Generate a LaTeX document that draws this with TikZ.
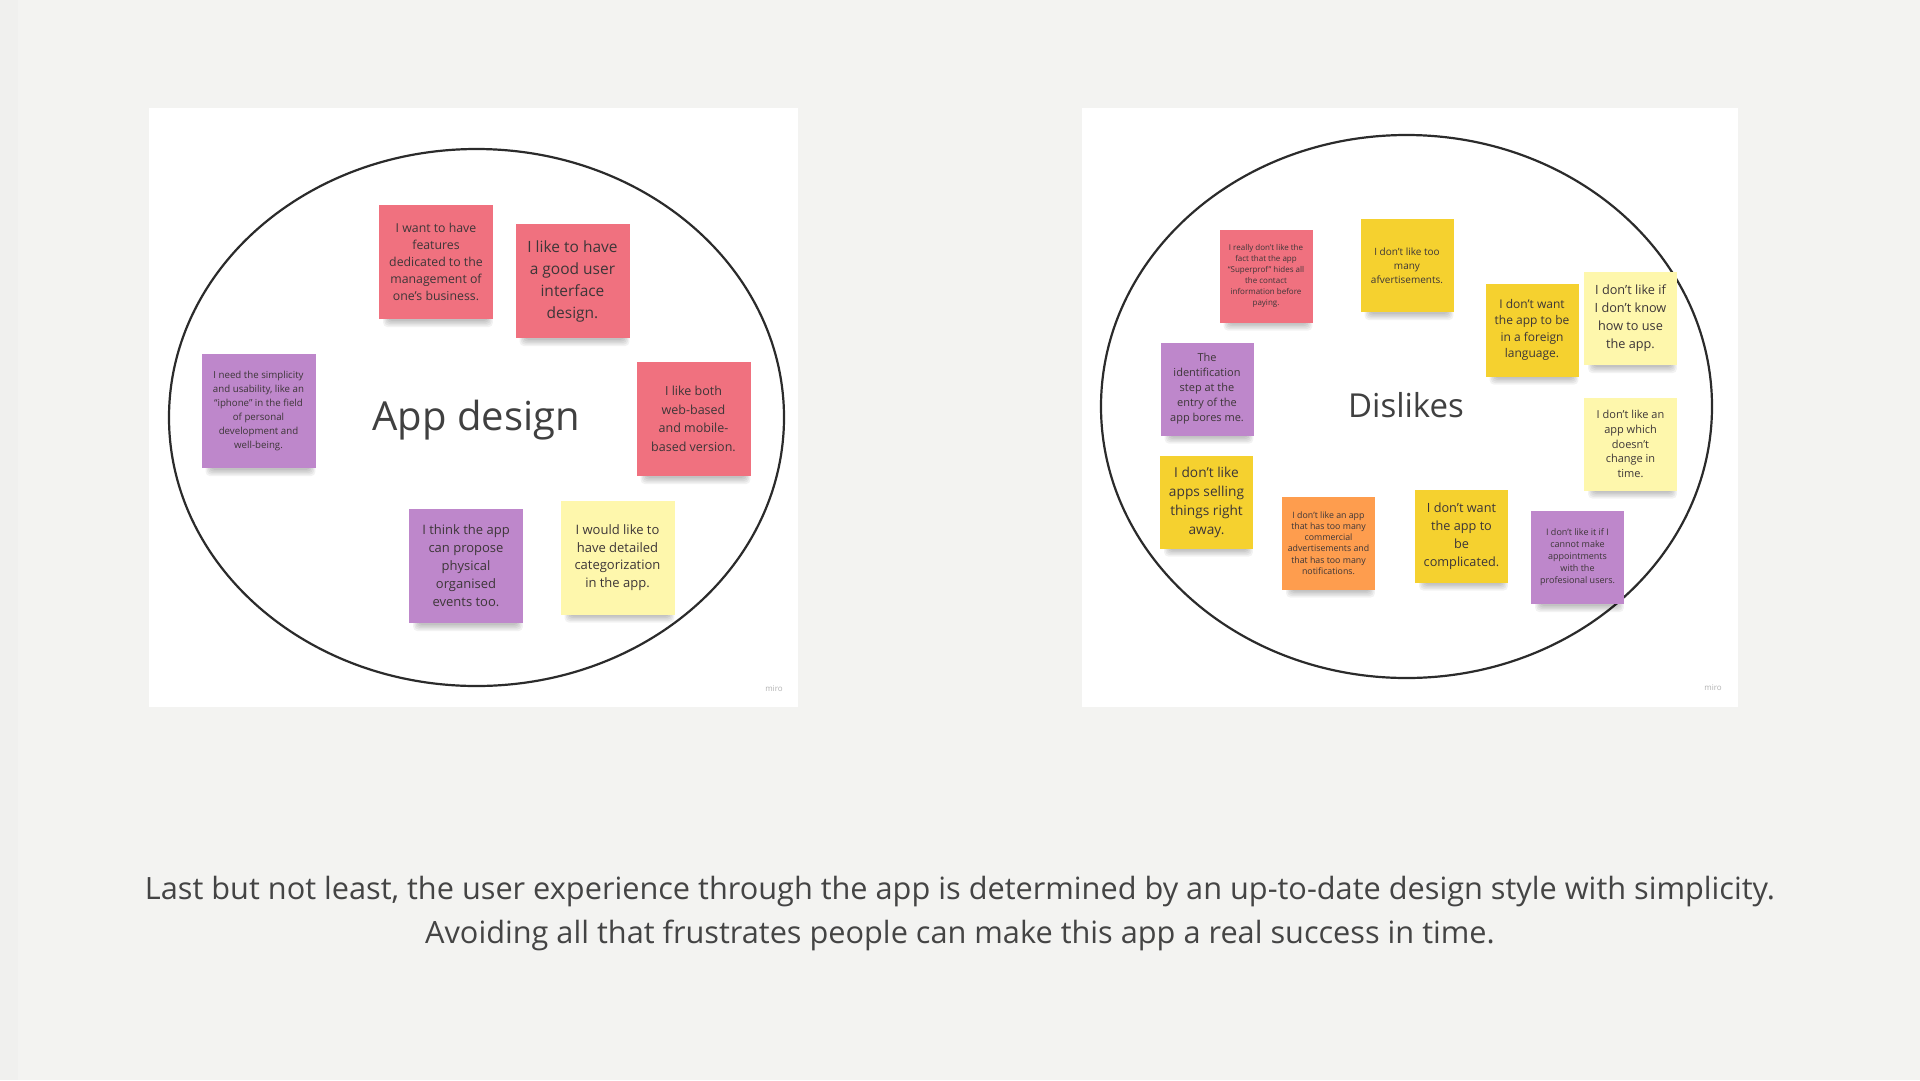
\documentclass[tikz,border=0pt]{standalone}
\usepackage{fontspec}
\setmainfont{Open Sans}
\usetikzlibrary{calc}

\definecolor{paper}{HTML}{F3F3F1}
\definecolor{ink}{HTML}{2B2B2B}
\definecolor{notetext}{HTML}{3D3638}
\definecolor{notepink}{HTML}{F0717F}
\definecolor{notepurple}{HTML}{BE87CB}
\definecolor{noteyellow}{HTML}{F5D12F}
\definecolor{notelight}{HTML}{FEF7AC}
\definecolor{noteorange}{HTML}{FE9D4E}

\tikzset{
  panel/.style={fill=white, draw=none, inner sep=0pt},
  ring/.style={draw=ink, line width=2.2pt},
  boardtitle/.style={text=ink!90, inner sep=0pt},
  sticky/.style={fill=#1, draw=none, inner sep=0pt, align=center, text=notetext},
  brandtag/.style={text=black!30, inner sep=0pt, font=\fontsize{8}{9}\selectfont},
  caption/.style={text=ink!88, inner sep=0pt, anchor=base, font=\fontsize{30.7}{36}\selectfont},
}

% soft drop shadow under the lower edge of a note: centre x, centre y, half size
\newcommand\notedrop[3]{%
  \foreach \k in {0,1,2,3,4}{
    \fill[black, opacity=0.05, rounded corners=4pt]
      ({#1-#3+9-1.2*\k},{#2+#3-6}) rectangle ({#1+#3-5+1.2*\k},{#2+#3+2+1.5*\k});
  }}

% sticky note: name, x, y, size, colour, font size, leading, text
\newcommand\stickynote[8]{%
  \notedrop{#2}{#3}{#4/2}
  \node[sticky=#5, minimum size=#4pt, font={\fontsize{#6}{#7}\selectfont}] (#1) at (#2,#3) {#8};
}

\begin{document}
\begin{tikzpicture}[x=1pt,y=-1pt]
\useasboundingbox (0,0) rectangle (1920,1080);
\fill[paper] (0,0) rectangle (1920,1080);
\fill[black, opacity=0.012] (0,0) rectangle (18,1080);

% the two boards
\node[panel, minimum width=649pt, minimum height=599pt] (boardA) at (473.5,407.5) {};
\node[panel, minimum width=656pt, minimum height=599pt] (boardB) at (1410,407.5) {};

\draw[ring] (476.5,417.5) ellipse [x radius=307.5pt, y radius=268.5pt];
\draw[ring] (1406.5,406.5) ellipse [x radius=305.5pt, y radius=271.5pt];

\node[boardtitle, font=\fontsize{40}{48}\selectfont] (titleA) at (476,420) {App design};
\node[boardtitle, font=\fontsize{33}{40}\selectfont] (titleB) at (1406,405) {Dislikes};

\node[brandtag] (brandA) at (774,689) {miro};
\node[brandtag] (brandB) at (1713,688) {miro};

% notes on the first board
\stickynote{a1}{436}{262}{114}{notepink}{12.3}{17}{I want to have\\features\\dedicated to the\\management of\\one's business.}
\stickynote{a2}{572.5}{281}{114}{notepink}{15.5}{22}{I like to have\\a good user\\interface\\design.}
\stickynote{a3}{258.5}{411}{114}{notepurple}{9.7}{14}{I need the simplicity\\and usability, like an\\``iphone'' in the field\\of personal\\development and\\well-being.}
\stickynote{a4}{693.5}{419}{114}{notepink}{12.5}{18.5}{I like both\\web-based\\and mobile-\\based version.}
\stickynote{a5}{466}{566}{114}{notepurple}{13}{18}{I think the app\\can propose\\physical\\organised\\events too.}
\stickynote{a6}{617.5}{557.5}{114}{notelight}{13}{17.5}{I would like to\\have detailed\\categorization\\in the app.}

% notes on the second board
\stickynote{b1}{1266}{276}{93}{notepink}{8}{11}{I really don't like the\\fact that the app\\``Superprof'' hides all\\the contact\\information before\\paying.}
\stickynote{b2}{1407}{265.5}{93}{noteyellow}{10}{14}{I don't like too\\many\\afvertisements.}
\stickynote{b3}{1532}{330}{93}{noteyellow}{12}{16.5}{I don't want\\the app to be\\in a foreign\\language.}
\stickynote{b4}{1630.5}{318.5}{93}{notelight}{12.7}{18}{I don't like if\\I don't know\\how to use\\the app.}
\stickynote{b5}{1207}{389}{93}{notepurple}{11}{15}{The\\identification\\step at the\\entry of the\\app bores me.}
\stickynote{b6}{1630.5}{444}{93}{notelight}{11}{14.7}{I don't like an\\app which\\doesn't\\change in\\time.}
\stickynote{b7}{1206.5}{502}{93}{noteyellow}{13.7}{19}{I don't like\\apps selling\\things right\\away.}
\stickynote{b8}{1328.5}{543}{93}{noteorange}{8.8}{11.2}{I don't like an app\\that has too many\\commercial\\advertisements and\\that has too many\\notifications.}
\stickynote{b9}{1461.5}{536}{93}{noteyellow}{12.7}{18}{I don't want\\the app to\\be\\complicated.}
\stickynote{b10}{1577.5}{557.5}{93}{notepurple}{9}{12}{I don't like it if I\\cannot make\\appointments\\with the\\profesional users.}

% closing remark
\node[caption] (line1) at (960,899) {Last but not least, the user experience through the app is determined by an up-to-date design style with simplicity.};
\node[caption] (line2) at (960,943) {Avoiding all that frustrates people can make this app a real success in time.};
\end{tikzpicture}
\end{document}
